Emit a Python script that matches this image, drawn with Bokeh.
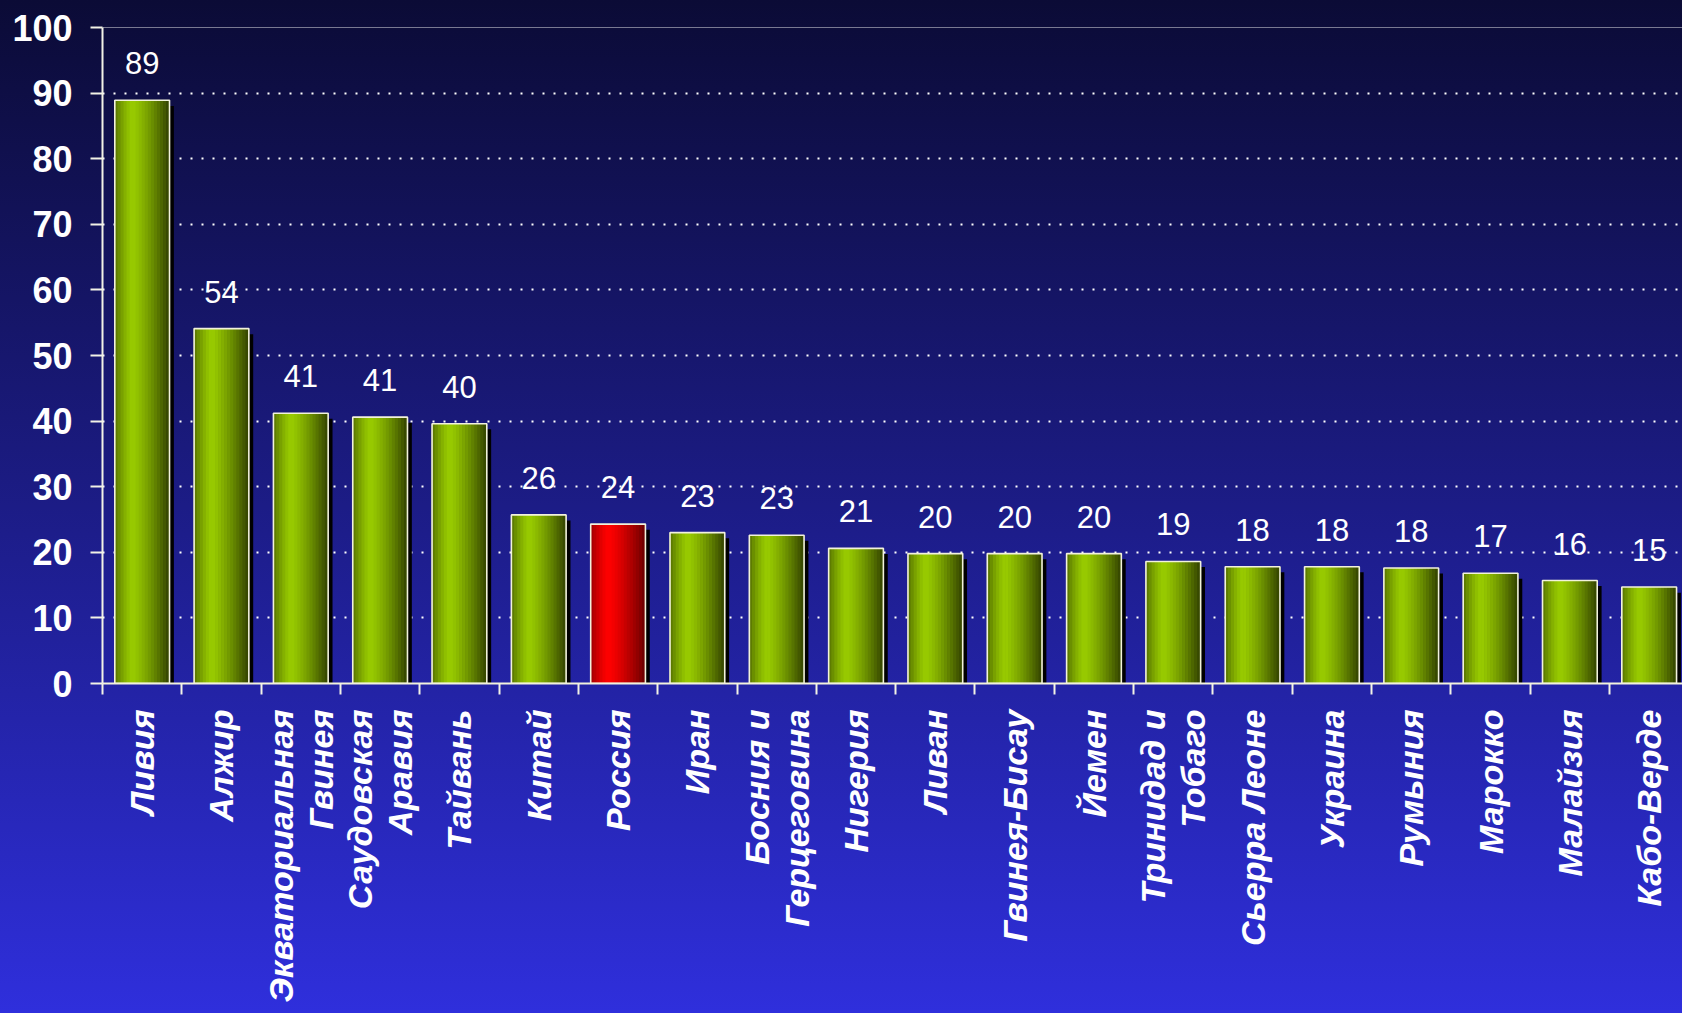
import math
from bokeh.plotting import figure
from bokeh.models import ColumnDataSource, Range1d, FixedTicker, Span
from bokeh.embed import file_html
from bokeh.resources import INLINE
from bokeh.core.properties import value

# ---------------- data ----------------
countries = ["Ливия", "Алжир", "Экваториальная\nГвинея", "Саудовская\nАравия",
             "Тайвань", "Китай", "Россия", "Иран", "Босния и\nГерцеговина",
             "Нигерия", "Ливан", "Гвинея-Бисау", "Йемен", "Тринидад и\nТобаго",
             "Сьерра Леоне", "Украина", "Румыния", "Марокко", "Малайзия",
             "Кабо-Верде"]
values = [88.9, 54.1, 41.2, 40.6, 39.6, 25.7, 24.3, 23.0, 22.6, 20.6,
          19.8, 19.8, 19.8, 18.6, 17.8, 17.8, 17.6, 16.8, 15.7, 14.7]
highlight = "Россия"
y_ticks = [0, 10, 20, 30, 40, 50, 60, 70, 80, 90, 100]

# ---------------- styling helpers ----------------
FONT = "Liberation Sans"
BW = 0.69          # bar width (category units)
NSTRIP = 18        # strips to imitate the cylindrical gradient


def shade(t, bright, dark):
    if t < 0.33:
        f = 1.0 - ((0.33 - t) / 0.33) ** 1.4 * 0.6
    else:
        f = 1.0 - ((t - 0.33) / 0.67) ** 1.3 * 0.9
    r = int(bright[0] * f + dark[0] * (1 - f))
    g = int(bright[1] * f + dark[1] * (1 - f))
    b = int(bright[2] * f + dark[2] * (1 - f))
    return "#%02x%02x%02x" % (r, g, b)


GREEN = ((153, 204, 0), (40, 52, 0))
RED = ((255, 0, 0), (90, 0, 0))

idx = list(range(len(countries)))

sx, stop, scol = [], [], []
for i, v in zip(idx, values):
    pal = RED if countries[i] == highlight else GREEN
    for k in range(NSTRIP):
        t = (k + 0.5) / NSTRIP
        sx.append(i - BW / 2 + t * BW)
        stop.append(v)
        scol.append(shade(t, *pal))
strips = ColumnDataSource(dict(x=sx, top=stop, color=scol))

bars = ColumnDataSource(dict(
    x=idx,
    top=values,
    sx=[i + 0.055 for i in idx],
    stop=[v - 0.85 for v in values],
    label=["%.0f" % v for v in values],
))

# ---------------- figure ----------------
p = figure(width=1682, height=1013, output_backend="svg", toolbar_location=None,
           x_range=Range1d(-0.5, 19.42), y_range=Range1d(0, 100),
           min_border_left=102, min_border_top=27, min_border_right=0,
           min_border_bottom=330)
p.background_fill_alpha = 0
p.border_fill_alpha = 0
p.outline_line_color = None

# grid
p.xgrid.visible = False
p.ygrid.ticker = FixedTicker(ticks=y_ticks)
p.ygrid.grid_line_color = "white"
p.ygrid.grid_line_width = 2
p.ygrid.grid_line_dash = "2 9"
p.add_layout(Span(location=100, dimension="width", line_color="white",
                  line_width=1.2, line_alpha=0.9))

# shadows
p.vbar(x="sx", top="stop", bottom=0, width=BW, source=bars,
       fill_color="black", line_color=None)
# gradient strips
p.vbar(x="x", top="top", bottom=0, width=BW / NSTRIP * 1.25, source=strips,
       fill_color="color", line_color=None)
# outline
p.vbar(x="x", top="top", bottom=0, width=BW, source=bars,
       fill_color=None, line_color="#f2f2dc", line_width=1.6)

# value labels
p.text(x="x", y="top", text="label", source=bars, y_offset=-37,
       text_align="center", text_baseline="middle", text_color="white",
       text_font=value(FONT), text_font_size="31px")

# y axis
ya = p.yaxis[0]
ya.ticker = FixedTicker(ticks=y_ticks)
ya.axis_line_color = "#f2f2e6"
ya.axis_line_width = 2
ya.major_tick_line_color = "#f2f2e6"
ya.major_tick_line_width = 2
ya.major_tick_out = 12
ya.major_tick_in = 0
ya.minor_tick_line_color = None
ya.major_label_standoff = 18
ya.major_label_text_color = "white"
ya.major_label_text_font = FONT
ya.major_label_text_font_size = "36px"
ya.major_label_text_font_style = "bold"

# x axis
xa = p.xaxis[0]
xa.ticker = FixedTicker(ticks=idx, minor_ticks=[i - 0.5 for i in range(len(idx) + 1)])
xa.major_label_overrides = {i: c for i, c in zip(idx, countries)}
xa.axis_line_color = "#f2f2dc"
xa.axis_line_width = 2
xa.major_tick_line_color = None
xa.major_tick_out = 0
xa.major_tick_in = 0
xa.minor_tick_line_color = "#f2f2e6"
xa.minor_tick_line_width = 2
xa.minor_tick_out = 11
xa.minor_tick_in = 0
xa.major_label_orientation = math.pi / 2
xa.major_label_standoff = 15
xa.major_label_text_color = "white"
xa.major_label_text_font = FONT
xa.major_label_text_font_size = "34px"
xa.major_label_text_font_style = "bold italic"
xa.major_label_text_line_height = 1.05

# ---------------- page ----------------
html = None
try:
    from bokeh.core.templates import FILE
    tmpl = FILE.environment.from_string(
        '{% extends "file.html" %}{% block postamble %}<style>'
        'html,body{background:linear-gradient(to bottom,#0b0b36 0%,#1c1c86 50%,#2f2fdc 100%) fixed;}'
        '</style>{% endblock %}')
    html = file_html(p, INLINE, template=tmpl)
except Exception:
    html = None
if html is None:
    html = file_html(p, INLINE)
open("out.html", "w").write(html)
